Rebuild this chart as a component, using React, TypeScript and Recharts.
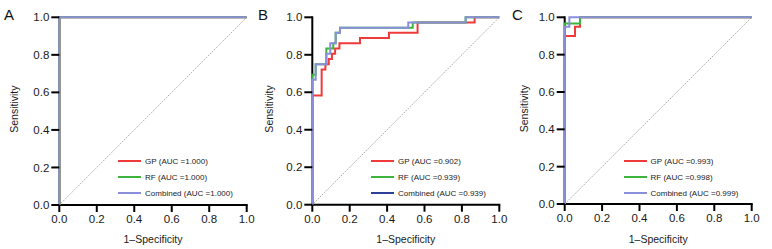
import React from "react";
import { LineChart, Line, XAxis, YAxis, Label } from "recharts";

// axis ticks, shared by all three panels
const ticks = [0, 0.2, 0.4, 0.6, 0.8, 1.0];
const panelLetters = ["A", "B", "C"];
const seriesNames = ["GP", "RF", "Combined"];

// AUC values shown in the legends
const aucA = ["1.000", "1.000", "1.000"];
const aucB = ["0.902", "0.939", "0.939"];
const aucC = ["0.993", "0.998", "0.999"];

// ROC corner points (1-specificity, sensitivity)
const gpA_fpr = [0, 0, 1];
const gpA_tpr = [0, 1, 1];
const rfA_fpr = [0, 0, 1];
const rfA_tpr = [0, 1, 1];
const combA_fpr = [0, 0, 1];
const combA_tpr = [0, 1, 1];

const gpB_fpr = [0, 0, 0.05, 0.05, 0.07, 0.07, 0.088, 0.088, 0.105, 0.105, 0.122, 0.122, 0.145, 0.145, 0.255, 0.255, 0.41, 0.41, 0.563, 0.563, 0.868, 0.868, 1];
const gpB_tpr = [0, 0.583, 0.583, 0.722, 0.722, 0.75, 0.75, 0.778, 0.778, 0.806, 0.806, 0.833, 0.833, 0.861, 0.861, 0.889, 0.889, 0.917, 0.917, 0.972, 0.972, 1, 1];
const rfB_fpr = [0, 0, 0.018, 0.018, 0.075, 0.075, 0.112, 0.112, 0.125, 0.125, 0.148, 0.148, 0.537, 0.537, 0.82, 0.82, 1];
const rfB_tpr = [0, 0.694, 0.694, 0.75, 0.75, 0.833, 0.833, 0.861, 0.861, 0.917, 0.917, 0.944, 0.944, 0.972, 0.972, 1, 1];
const combB_fpr = [0, 0, 0.018, 0.018, 0.075, 0.075, 0.096, 0.096, 0.125, 0.125, 0.148, 0.148, 0.513, 0.513, 0.82, 0.82, 1];
const combB_tpr = [0, 0.667, 0.667, 0.75, 0.75, 0.806, 0.806, 0.861, 0.861, 0.917, 0.917, 0.944, 0.944, 0.972, 0.972, 1, 1];

const gpC_fpr = [0, 0, 0.055, 0.055, 0.082, 0.082, 1];
const gpC_tpr = [0, 0.9, 0.9, 0.95, 0.95, 1, 1];
const rfC_fpr = [0, 0, 0.082, 0.082, 1];
const rfC_tpr = [0, 0.967, 0.967, 1, 1];
const combC_fpr = [0, 0, 0.025, 0.025, 1];
const combC_tpr = [0, 0.95, 0.95, 1, 1];

// chance diagonal and the two axis lines (drawn as series so curves sit on top)
const diag_fpr = [0, 1];
const diag_tpr = [0, 1];
const xAxisLine_fpr = [0, 1];
const xAxisLine_tpr = [0, 0];
const yAxisLine_fpr = [0, 0];
const yAxisLine_tpr = [0, 1];

const RED = "#ef3a3a";
const GREEN = "#3db43d";
const LAVENDER = "#8a8fdb";
const NAVY = "#2d3f97";
const FONT = "'Liberation Sans', Arial, Helvetica, sans-serif";

const zip = (xs: number[], ys: number[]) => xs.map((x, i) => ({ x, y: ys[i] }));

const panels = [
    {
        letter: panelLetters[0],
        auc: aucA,
        series: [zip(gpA_fpr, gpA_tpr), zip(rfA_fpr, rfA_tpr), zip(combA_fpr, combA_tpr)],
        legendColors: [RED, GREEN, LAVENDER],
        left: 0, width: 255, plotLeft: 59.3, right: 8.3, bottom: 44,
    },
    {
        letter: panelLetters[1],
        auc: aucB,
        series: [zip(gpB_fpr, gpB_tpr), zip(rfB_fpr, rfB_tpr), zip(combB_fpr, combB_tpr)],
        legendColors: [RED, GREEN, NAVY],
        left: 255, width: 255, plotLeft: 57.3, right: 10.7, bottom: 44.3,
    },
    {
        letter: panelLetters[2],
        auc: aucC,
        series: [zip(gpC_fpr, gpC_tpr), zip(rfC_fpr, rfC_tpr), zip(combC_fpr, combC_tpr)],
        legendColors: [RED, GREEN, LAVENDER],
        left: 510, width: 262, plotLeft: 54.7, right: 20.3, bottom: 45,
    },
];

const lineColors = [RED, GREEN, LAVENDER];
const TOP = 17.3;
const H = 249;

function Panel({ p }: { p: (typeof panels)[number] }) {
    const plotW = p.width - p.plotLeft - p.right;
    const plotH = H - TOP - p.bottom;
    const cx = p.plotLeft + plotW / 2;
    const cy = TOP + plotH / 2 - 2;
    const tickStyle = { fill: "#1a1a1a", fontSize: 11.5, fontFamily: FONT };

    return (
        <div style={{ position: "absolute", left: p.left, top: 0, width: p.width, height: H }}>
            <LineChart width={p.width} height={H} margin={{ top: TOP, right: p.right, left: 0, bottom: 0 }}>
                <XAxis
                    type="number"
                    dataKey="x"
                    domain={[0, 1]}
                    ticks={ticks}
                    tickFormatter={(v: number) => v.toFixed(1)}
                    height={p.bottom}
                    tickSize={7}
                    tickMargin={3}
                    axisLine={false}
                    tickLine={{ stroke: "#000", strokeWidth: 2 }}
                    tick={tickStyle}
                >
                    <Label
                        content={() => (
                            <text x={cx} y={243} textAnchor="middle" fontSize={10.5} fontFamily={FONT} fill="#1a1a1a">
                                1–Specificity
                            </text>
                        )}
                    />
                </XAxis>
                <YAxis
                    type="number"
                    dataKey="y"
                    domain={[0, 1]}
                    ticks={ticks}
                    tickFormatter={(v: number) => v.toFixed(1)}
                    width={p.plotLeft}
                    tickSize={8}
                    tickMargin={2}
                    axisLine={false}
                    tickLine={{ stroke: "#000", strokeWidth: 2 }}
                    tick={tickStyle}
                >
                    <Label
                        content={() => (
                            <text
                                x={14}
                                y={cy}
                                textAnchor="middle"
                                dominantBaseline="central"
                                transform={`rotate(-90 14 ${cy})`}
                                fontSize={10.5}
                                fontFamily={FONT}
                                fill="#1a1a1a"
                            >
                                Sensitivity
                            </text>
                        )}
                    />
                </YAxis>
                <Line
                    data={zip(xAxisLine_fpr, xAxisLine_tpr)}
                    dataKey="y"
                    type="linear"
                    stroke="#000"
                    strokeWidth={2}
                    strokeLinecap="square"
                    dot={false}
                    activeDot={false}
                    isAnimationActive={false}
                />
                <Line
                    data={zip(yAxisLine_fpr, yAxisLine_tpr)}
                    dataKey="y"
                    type="linear"
                    stroke="#000"
                    strokeWidth={2}
                    strokeLinecap="square"
                    dot={false}
                    activeDot={false}
                    isAnimationActive={false}
                />
                <Line
                    data={zip(diag_fpr, diag_tpr)}
                    dataKey="y"
                    type="linear"
                    stroke="#808080"
                    strokeWidth={0.7}
                    strokeDasharray="1.5 1.2"
                    dot={false}
                    activeDot={false}
                    isAnimationActive={false}
                />
                {p.series.map((d, i) => (
                    <Line
                        key={i}
                        data={d}
                        dataKey="y"
                        type="linear"
                        stroke={lineColors[i]}
                        strokeWidth={2}
                        dot={false}
                        activeDot={false}
                        isAnimationActive={false}
                    />
                ))}
            </LineChart>

            {/* panel letter */}
            <div
                style={{
                    position: "absolute",
                    left: p.letter === "A" ? 4 : p.letter === "B" ? 3 : 2,
                    top: 7,
                    fontSize: 15,
                    lineHeight: "15px",
                    fontFamily: FONT,
                    color: "#111",
                }}
            >
                {p.letter}
            </div>

            {/* legend */}
            <div style={{ position: "absolute", left: p.plotLeft + 58.8, top: 153 }}>
                {seriesNames.map((name, i) => (
                    <div key={name} style={{ display: "flex", alignItems: "center", height: 16 }}>
                        <span style={{ display: "inline-block", width: 23, height: 2, backgroundColor: p.legendColors[i], marginRight: 4 }} />
                        <span style={{ fontSize: 8, fontFamily: FONT, color: "#1a1a1a", whiteSpace: "nowrap" }}>
                            {name} (AUC ={p.auc[i]})
                        </span>
                    </div>
                ))}
            </div>
        </div>
    );
}

export default function App() {
    return (
        <div style={{ position: "absolute", left: 0, top: 0, width: 772, height: 249, background: "#fff", overflow: "hidden" }}>
            {panels.map((p) => (
                <Panel key={p.letter} p={p} />
            ))}
        </div>
    );
}
